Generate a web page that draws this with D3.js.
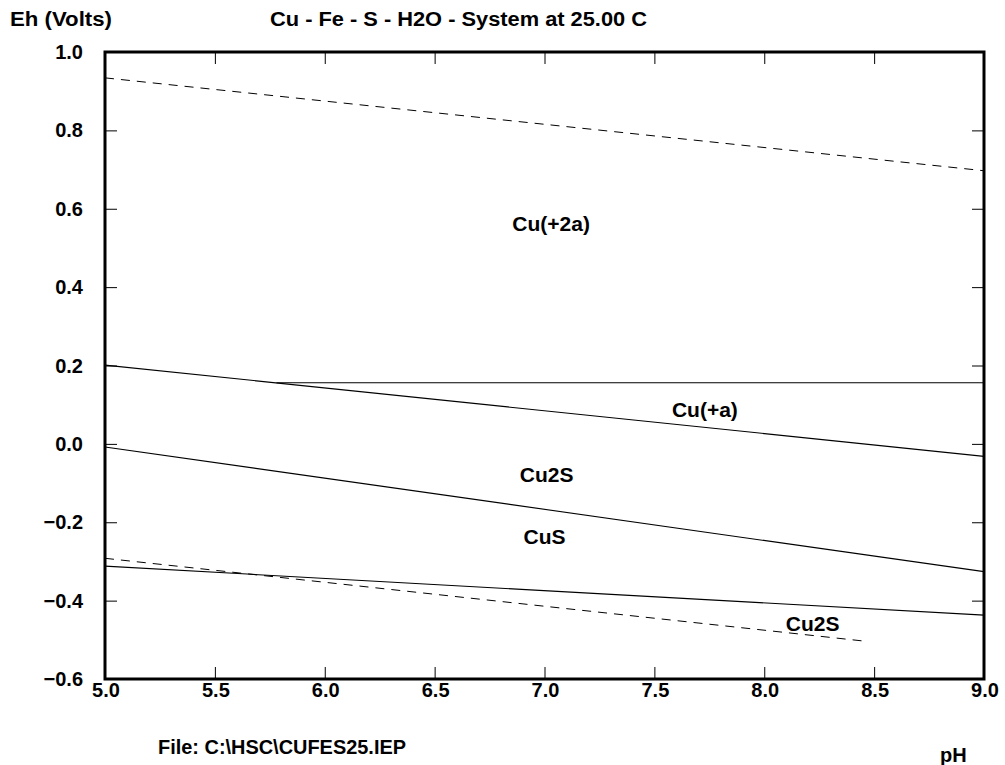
<!DOCTYPE html>
<html>
<head>
<meta charset="utf-8">
<script src="https://cdn.jsdelivr.net/npm/d3@7"></script>
<style>
  html, body { margin: 0; padding: 0; background: #fff; }
  svg { display: block; }
  text { font-family: "Liberation Sans", Arial, sans-serif; font-weight: bold; fill: #000; }
</style>
</head>
<body>
<svg id="chart" width="1005" height="765"></svg>
<script>
// ---- data ----
const xTicks = [5.0, 5.5, 6.0, 6.5, 7.0, 7.5, 8.0, 8.5, 9.0];
const yTicks = [1.0, 0.8, 0.6, 0.4, 0.2, 0.0, -0.2, -0.4, -0.6];
// water stability lines (dashed): [pH, Eh]
const waterUpper = [[5.0, 0.934], [9.0, 0.697]];
const waterLower = [[5.0, -0.292], [8.45, -0.503]];
// phase boundaries (solid)
const lineCu2Cu1 = [[5.0, 0.201], [9.0, -0.032]];
const lineCu2Horizontal = [[5.78, 0.156], [9.0, 0.156]];
const lineCu2S_CuS = [[5.0, -0.008], [9.0, -0.326]];
const lineCuS_Cu2S = [[5.0, -0.312], [9.0, -0.437]];
// region labels: [name, pH, Eh]
const regionLabels = [
  ["Cu(+2a)", 7.03, 0.562],
  ["Cu(+a)", 7.73, 0.087],
  ["Cu2S", 7.01, -0.078],
  ["CuS", 7.0, -0.237],
  ["Cu2S", 8.22, -0.458]
];

const svg = d3.select("#chart");
const pL = 105, pR = 984, pT = 52, pB = 679;
const x = d3.scaleLinear().domain([5, 9]).range([pL, pR]);
const y = d3.scaleLinear().domain([-0.6, 1.0]).range([pB, pT]);
const line = d3.line().x(d => x(d[0])).y(d => y(d[1]));

// phase lines
const solid = [lineCu2Cu1, lineCu2Horizontal, lineCu2S_CuS, lineCuS_Cu2S];
svg.selectAll("path.solid").data(solid).enter().append("path")
  .attr("class", "solid").attr("d", line)
  .attr("fill", "none").attr("stroke", "#000").attr("stroke-width", 1.1);
svg.selectAll("path.dash").data([waterUpper, waterLower]).enter().append("path")
  .attr("class", "dash").attr("d", line)
  .attr("fill", "none").attr("stroke", "#000").attr("stroke-width", 1)
  .attr("stroke-dasharray", "9,7");

// axes (inner ticks)
const tl = 12;
svg.append("g").attr("transform", `translate(0,${pB})`)
  .call(d3.axisTop(x).tickValues(xTicks).tickSize(tl).tickFormat(""))
  .call(g => g.select(".domain").remove());
svg.append("g").attr("transform", `translate(0,${pT})`)
  .call(d3.axisBottom(x).tickValues(xTicks).tickSize(tl).tickFormat(""))
  .call(g => g.select(".domain").remove());
svg.append("g").attr("transform", `translate(${pL},0)`)
  .call(d3.axisRight(y).tickValues(yTicks).tickSize(tl).tickFormat(""))
  .call(g => g.select(".domain").remove());
svg.append("g").attr("transform", `translate(${pR},0)`)
  .call(d3.axisLeft(y).tickValues(yTicks).tickSize(tl).tickFormat(""))
  .call(g => g.select(".domain").remove());
svg.selectAll(".tick line").attr("stroke", "#000").attr("stroke-width", 1);

// frame
svg.append("rect").attr("x", pL).attr("y", pT)
  .attr("width", pR - pL).attr("height", pB - pT)
  .attr("fill", "none").attr("stroke", "#000").attr("stroke-width", 3);

// tick labels
svg.selectAll("text.yl").data(yTicks).enter().append("text")
  .attr("class", "yl").attr("x", 83).attr("y", d => y(d) + 7)
  .attr("text-anchor", "end").attr("font-size", 20)
  .text(d => d3.format(".1f")(d));
svg.selectAll("text.xl").data(xTicks).enter().append("text")
  .attr("class", "xl").attr("x", d => x(d) + 1).attr("y", 697)
  .attr("text-anchor", "middle").attr("font-size", 20)
  .text(d => d3.format(".1f")(d));

// titles
svg.append("text").attr("x", 10).attr("y", 26).attr("font-size", 20)
  .attr("textLength", 102).attr("lengthAdjust", "spacingAndGlyphs").text("Eh (Volts)");
svg.append("text").attr("x", 270).attr("y", 26).attr("font-size", 20)
  .attr("textLength", 377).attr("lengthAdjust", "spacingAndGlyphs")
  .text("Cu - Fe - S - H2O - System at 25.00 C");
svg.append("text").attr("x", 158).attr("y", 754).attr("font-size", 20)
  .attr("textLength", 248).attr("lengthAdjust", "spacingAndGlyphs")
  .text("File: C:\\HSC\\CUFES25.IEP");
svg.append("text").attr("x", 940).attr("y", 762).attr("font-size", 20).text("pH");

// region labels
svg.selectAll("text.rl").data(regionLabels).enter().append("text")
  .attr("class", "rl").attr("x", d => x(d[1])).attr("y", d => y(d[2]) + 7.5)
  .attr("text-anchor", "middle").attr("font-size", 21)
  .text(d => d[0]);
</script>
</body>
</html>
